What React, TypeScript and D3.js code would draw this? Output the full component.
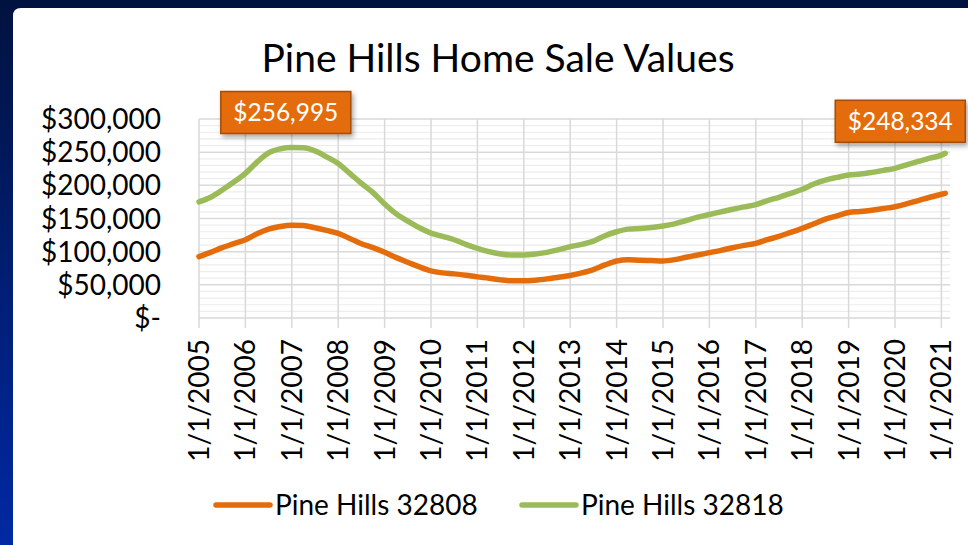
import React from "react";
import * as d3 from "d3";

const quarterDates = [
  "2005-01","2005-04","2005-07","2005-10",
  "2006-01","2006-04","2006-07","2006-10",
  "2007-01","2007-04","2007-07","2007-10",
  "2008-01","2008-04","2008-07","2008-10",
  "2009-01","2009-04","2009-07","2009-10",
  "2010-01","2010-04","2010-07","2010-10",
  "2011-01","2011-04","2011-07","2011-10",
  "2012-01","2012-04","2012-07","2012-10",
  "2013-01","2013-04","2013-07","2013-10",
  "2014-01","2014-04","2014-07","2014-10",
  "2015-01","2015-04","2015-07","2015-10",
  "2016-01","2016-04","2016-07","2016-10",
  "2017-01","2017-04","2017-07","2017-10",
  "2018-01","2018-04","2018-07","2018-10",
  "2019-01","2019-04","2019-07","2019-10",
  "2020-01","2020-04","2020-07","2020-10",
  "2021-01","2021-02",
];

const series32808 = [
  92500, 99000, 106000, 112000,
  118000, 127000, 134000, 138000,
  140000, 139500, 136000, 132000,
  127600, 120000, 112000, 106000,
  99000, 91000, 84000, 77000,
  71000, 68000, 66500, 64500,
  62000, 60000, 57500, 56000,
  56000, 57000, 59000, 61500,
  64000, 68000, 73000, 80000,
  86000, 88000, 87000, 86500,
  86000, 88000, 91500, 95000,
  98500, 102000, 106000, 109500,
  112500, 118000, 123000, 129000,
  135000, 142000, 149000, 154000,
  159000, 160500, 162500, 165000,
  167800, 172000, 177000, 182000,
  186500, 188000,
];

const series32818 = [
  175000, 182000, 193000, 205000,
  218000, 235000, 249000, 255000,
  256995, 256500, 252000, 243000,
  233000, 218000, 203000, 189000,
  172000, 157000, 146000, 136000,
  128000, 123000, 118000, 111000,
  105000, 100000, 96500, 95000,
  95000, 96500, 99000, 103000,
  107500, 111000, 116000, 124000,
  130000, 134000, 135000, 136500,
  138700, 142000, 147000, 152000,
  156000, 160000, 164000, 167500,
  171000, 177000, 182000, 188000,
  194000, 202000, 208000, 212000,
  215600, 217000, 219500, 222500,
  225600, 231000, 236000, 241000,
  245500, 248334,
];

const seriesNames = ["Pine Hills 32808", "Pine Hills 32818"];
const seriesColors = ["#E46C0A", "#9BBB59"];
const yTicks = [0, 50000, 100000, 150000, 200000, 250000, 300000];
const xTickLabels = [
  "1/1/2005","1/1/2006","1/1/2007","1/1/2008","1/1/2009","1/1/2010",
  "1/1/2011","1/1/2012","1/1/2013","1/1/2014","1/1/2015","1/1/2016",
  "1/1/2017","1/1/2018","1/1/2019","1/1/2020","1/1/2021",
];
const calloutIdx = [8, 65];
const titleText = "Pine Hills Home Sale Values";

const FONT = "Lato, 'Open Sans', sans-serif";

function monthIndex(s: string) {
  const [y, m] = s.split("-").map(Number);
  return (y - 2005) * 12 + (m - 1);
}

export default function App() {
  const W = 968, H = 545;
  const left = 199, top = 119, bottom = 318, plotRight = 950;
  const x = d3.scaleLinear().domain([0, 192]).range([left, 941.4]);
  const y = d3.scaleLinear().domain([0, 300000]).range([bottom, top]);
  const xs = quarterDates.map(monthIndex);
  const line = d3
    .line<number>()
    .x((_, i) => x(xs[i]))
    .y((d) => y(d))
    .curve(d3.curveMonotoneX);
  const minor = d3.range(10000, 300000, 10000).filter((v) => v % 50000 !== 0);
  const fmt = d3.format(",");
  const yLabel = (v: number) => (v === 0 ? "$-" : "$" + fmt(v));
  const allSeries = [series32808, series32818];

  const callouts = calloutIdx.map((i, k) => {
    const px = x(xs[i]);
    const py = y(series32818[i]);
    const w = 130, h = 42;
    const cx = k === 0 ? px - 6 : px - 45;
    const by = k === 0 ? py - 14 : py - 11;
    return { i, cx, w, h, bx: cx - w / 2, by: by - h, text: "$" + fmt(series32818[i]) };
  });

  return (
    <svg
      width={W}
      height={H}
      style={{ position: "fixed", left: 0, top: 0, display: "block" }}
      fontFamily={FONT}
    >
      <defs>
        <linearGradient id="bg" x1="0" y1="0" x2="0" y2="1">
          <stop offset="0" stopColor="#00123f" />
          <stop offset="1" stopColor="#0029a3" />
        </linearGradient>
        <filter id="shadow" x="-20%" y="-20%" width="150%" height="160%">
          <feDropShadow dx="2" dy="3" stdDeviation="2.5" floodColor="#000" floodOpacity="0.35" />
        </filter>
      </defs>
      <rect x={0} y={0} width={W} height={H} fill="url(#bg)" />
      <path d={`M13,${H} L13,16 Q13,8 21,8 L${W},8 L${W},${H} Z`} fill="#ffffff" />

      <text x={498} y={72} textAnchor="middle" fontSize={39} fill="#000">
        {titleText}
      </text>

      {/* minor gridlines */}
      {minor.map((v) => (
        <line key={"m" + v} x1={left} x2={plotRight} y1={y(v)} y2={y(v)} stroke="#ededed" strokeWidth={1.2} />
      ))}
      {/* major gridlines */}
      {yTicks.map((v) => (
        <line key={"M" + v} x1={left} x2={plotRight} y1={y(v)} y2={y(v)} stroke="#d9d9d9" strokeWidth={1.5} />
      ))}
      {xTickLabels.map((_, i) => (
        <line key={"v" + i} x1={x(i * 12)} x2={x(i * 12)} y1={top} y2={bottom + 10} stroke="#d9d9d9" strokeWidth={1.5} />
      ))}

      {yTicks.map((v) => (
        <text key={"yl" + v} x={161} y={y(v)} dy="0.36em" textAnchor="end" fontSize={28} fill="#000">
          {yLabel(v)}
        </text>
      ))}

      {xTickLabels.map((t, i) => (
        <text
          key={"xl" + t}
          transform={`translate(${x(i * 12)},339) rotate(-90)`}
          textAnchor="end"
          dy="0.36em"
          fontSize={28}
          fill="#000"
        >
          {t}
        </text>
      ))}

      {allSeries.map((s, k) => (
        <path
          key={"s" + k}
          d={line(s) || ""}
          fill="none"
          stroke={seriesColors[k]}
          strokeWidth={5.5}
          strokeLinecap="round"
          strokeLinejoin="round"
        />
      ))}

      {callouts.map((c) => (
        <g key={"c" + c.i}>
          <rect
            x={c.bx}
            y={c.by}
            width={c.w}
            height={c.h}
            fill="#E46C0A"
            stroke="#A24D07"
            strokeWidth={1.5}
            filter="url(#shadow)"
          />
          <text x={c.cx} y={c.by + c.h / 2} dy="0.36em" textAnchor="middle" fontSize={24.5} fill="#fff">
            {c.text}
          </text>
        </g>
      ))}

      {seriesNames.map((n, k) => {
        const lx = k === 0 ? 216 : 522;
        return (
          <g key={"lg" + k}>
            <line x1={lx} x2={lx + 54} y1={505} y2={505} stroke={seriesColors[k]} strokeWidth={5.5} strokeLinecap="round" />
            <text x={lx + 59} y={505} dy="0.36em" fontSize={28} fill="#000">
              {n}
            </text>
          </g>
        );
      })}
    </svg>
  );
}
